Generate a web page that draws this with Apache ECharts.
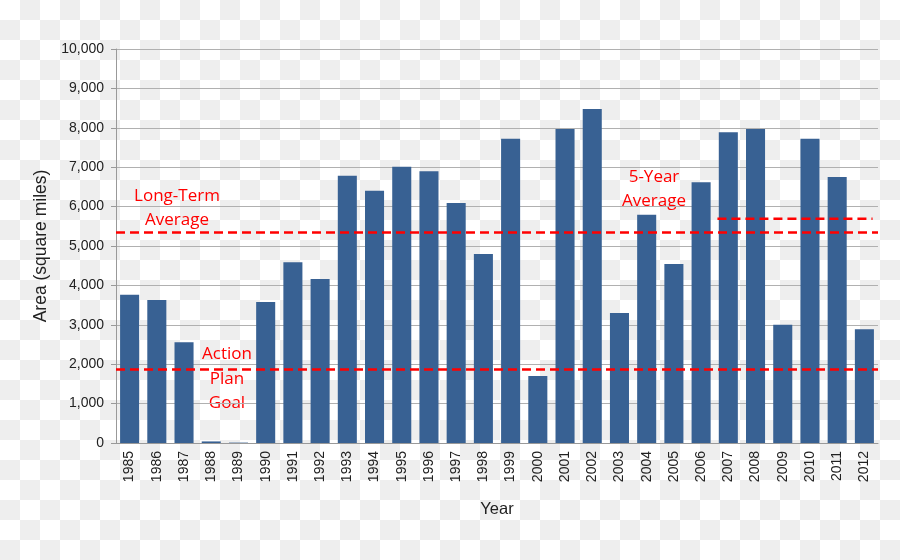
<!DOCTYPE html>
<html>
<head>
<meta charset="utf-8">
<script src="https://cdn.jsdelivr.net/npm/echarts@6/dist/echarts.min.js"></script>
<style>
html,body{margin:0;padding:0;}
body{width:900px;height:560px;background-color:#fff;
background-image:conic-gradient(#eeeeee 0 25%, #ffffff 0 50%, #eeeeee 0 75%, #ffffff 0);
background-size:40px 40px;}
#c{width:900px;height:560px;}
</style>
</head>
<body>
<div id="c"></div>
<script>
const years = ['1985','1986','1987','1988','1989','1990','1991','1992','1993','1994','1995','1996','1997','1998','1999','2000','2001','2002','2003','2004','2005','2006','2007','2008','2009','2010','2011','2012'];
const area = [3760,3630,2560,40,10,3580,4590,4160,6780,6400,7010,6900,6090,4800,7720,1700,7970,8480,3300,5790,4540,6620,7890,7970,3000,7720,6750,2890];
const longTermAverage = 5340;
const actionPlanGoal = 1870;
const fiveYearAverage = [[21.6,5690],[27.3,5690]];
const yTicks = {min:0, max:10000, interval:1000};

const chart = echarts.init(document.getElementById('c'), null, {renderer:'canvas'});
const red = '#ff0000';
const font = 'Liberation Sans, Arial, sans-serif';
const annFont = '17px "Open Sans", sans-serif';
chart.setOption({
  backgroundColor:'transparent',
  animation:false,
  grid:{left:116,right:22,top:49,bottom:117},
  xAxis:[{
    type:'category', data:years,
    axisLine:{onZero:false,lineStyle:{color:'#999',width:1}},
    axisTick:{show:false},
    axisLabel:{rotate:90,color:'#222',fontSize:14,fontFamily:font,margin:8},
    name:'Year', nameLocation:'middle', nameGap:58,
    nameTextStyle:{color:'#222',fontSize:16.5,fontFamily:font}
  },{
    type:'value', min:-0.5, max:27.5, show:false
  }],
  yAxis:{
    type:'value', min:yTicks.min, max:yTicks.max, interval:yTicks.interval,
    axisLine:{show:true,onZero:false,lineStyle:{color:'#999'}},
    axisTick:{show:true,length:5,lineStyle:{color:'#999'}},
    splitLine:{lineStyle:{color:'#b0b0b0',width:1}},
    axisLabel:{color:'#222',fontSize:14,fontFamily:font,margin:12,
      formatter:v=>v.toLocaleString('en-US')},
    name:'Area (square miles)', nameLocation:'middle', nameGap:62,
    nameTextStyle:{color:'#222',fontSize:17.5,fontFamily:font}
  },
  series:[{
    type:'bar', data:area, barCategoryGap:'30%',
    itemStyle:{color:'#386193'},
    markLine:{
      symbol:'none', silent:true,
      label:{show:false},
      lineStyle:{color:red,width:2.5,type:[9,5]},
      data:[{yAxis:longTermAverage},{yAxis:actionPlanGoal}]
    }
  },{
    type:'line', xAxisIndex:1, data:fiveYearAverage, symbol:'none',
    lineStyle:{color:red,width:2.5,type:[9,5]}
  }],
  graphic:[
    {type:'text',x:177,y:208,style:{text:'Long-Term\nAverage',fill:red,font:annFont,align:'center',verticalAlign:'middle',lineHeight:24}},
    {type:'text',x:227,y:379,style:{text:'Action\nPlan\nGoal',fill:red,font:annFont,align:'center',verticalAlign:'middle',lineHeight:24.5}},
    {type:'text',x:654,y:189,style:{text:'5-Year\nAverage',fill:red,font:annFont,align:'center',verticalAlign:'middle',lineHeight:24}}
  ]
});
</script>
</body>
</html>
